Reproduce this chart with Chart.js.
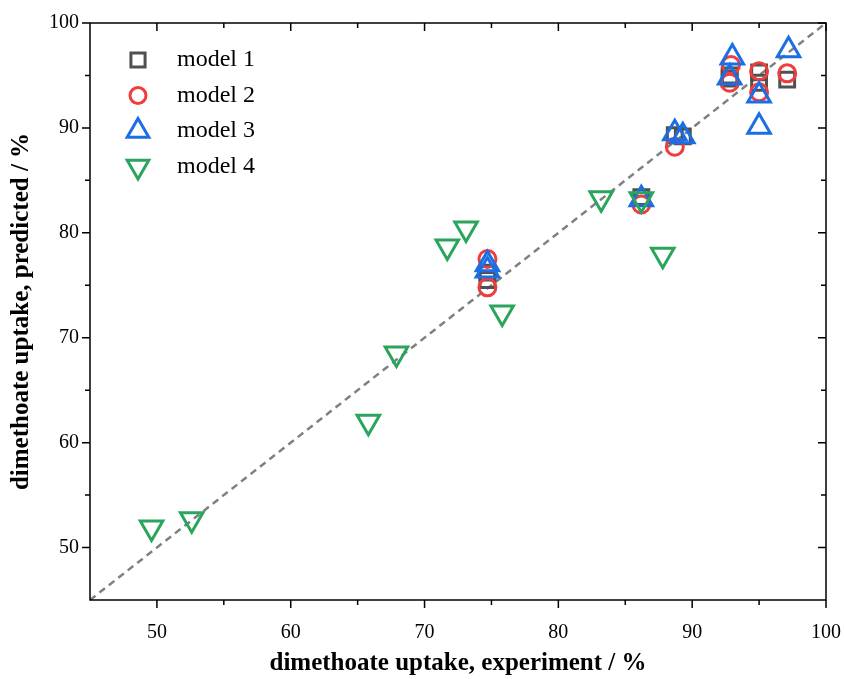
<!DOCTYPE html>
<html>
<head>
<meta charset="utf-8">
<script src="https://cdn.jsdelivr.net/npm/chart.js@4.4.0/dist/chart.umd.min.js"></script>
<style>
  html, body { margin: 0; padding: 0; background: #fff; }
  #wrap { position: relative; width: 844px; height: 679px; }
</style>
</head>
<body>
<div id="wrap"><canvas id="chart" width="844" height="679"></canvas></div>
<script>
// series names
const seriesNames = ['model 1', 'model 2', 'model 3', 'model 4'];

// model 1 (squares)
const m1x = [74.7, 74.7, 86.2, 88.7, 89.3, 92.8, 92.8, 95.0, 95.0, 97.1];
const m1y = [75.5, 76.2, 83.4, 89.3, 89.2, 95.0, 94.7, 95.3, 94.3, 94.6];
// model 2 (circles)
const m2x = [74.7, 74.7, 86.2, 88.7, 92.9, 92.8, 95.0, 95.0, 97.1];
const m2y = [77.5, 74.8, 82.7, 88.2, 96.0, 94.3, 95.4, 93.4, 95.2];
// model 3 (up triangles)
const m3x = [74.7, 74.7, 86.2, 88.7, 89.3, 93.0, 92.8, 95.0, 95.0, 97.2];
const m3y = [77.0, 76.4, 83.2, 89.5, 89.2, 96.7, 94.8, 93.1, 90.1, 97.4];
// model 4 (down triangles)
const m4x = [49.6, 52.6, 65.8, 67.9, 71.7, 73.1, 75.8, 83.2, 86.2, 87.8];
const m4y = [51.9, 52.7, 62.0, 68.5, 78.7, 80.4, 72.4, 83.3, 83.2, 77.9];

// 1:1 line
const diagonal = [45, 100];

// axis ticks
const xTicks = [50, 60, 70, 80, 90, 100];
const yTicks = [50, 60, 70, 80, 90, 100];
const xMinor = [55, 65, 75, 85, 95];
const yMinor = [55, 65, 75, 85, 95];

const colors = ['#505050', '#f03c3c', '#1b6fe3', '#2ba55d'];
const styles = ['rect', 'circle', 'triangle', 'triangle'];
const radii = [10.5, 8.5, 13, 13];
const rotations = [0, 0, 0, 180];

const serif = "'Liberation Serif', 'DejaVu Serif', serif";

function toPoints(xs, ys) {
    return xs.map((x, i) => ({ x, y: ys[i] }));
}

const modelSets = [[m1x, m1y], [m2x, m2y], [m3x, m3y], [m4x, m4y]].map((d, i) => ({
    label: seriesNames[i],
    data: toPoints(d[0], d[1]),
    pointStyle: styles[i],
    pointRadius: radii[i],
    pointHoverRadius: radii[i],
    pointRotation: rotations[i],
    pointBorderWidth: 3,
    pointBackgroundColor: 'rgba(0,0,0,0)',
    borderColor: colors[i],
    backgroundColor: 'rgba(0,0,0,0)',
    showLine: false,
    order: 4 - i
}));

const lineSet = {
    label: 'diagonal',
    data: toPoints(diagonal, diagonal),
    showLine: true,
    borderColor: '#808080',
    borderWidth: 2.5,
    borderDash: [7, 5],
    pointRadius: 0,
    order: 10
};

/**
 * Frame around the plot area with inward/outward ticks
 */
const framePlugin = {
    id: 'frame',
    afterDatasetsDraw(chart) {
        const { ctx, chartArea } = chart;
        const xs = chart.scales.x, ys = chart.scales.y;
        const { left, right, top, bottom } = chartArea;
        ctx.save();
        ctx.strokeStyle = '#000';
        ctx.lineWidth = 1.5;
        ctx.strokeRect(left, top, right - left, bottom - top);

        const tick = (vals, len) => {
            vals.forEach(v => {
                const px = xs.getPixelForValue(v);
                ctx.beginPath();
                ctx.moveTo(px, bottom); ctx.lineTo(px, bottom + len);   // bottom, outward
                ctx.moveTo(px, top); ctx.lineTo(px, top + len);         // top, inward
                ctx.stroke();
            });
        };
        const tickY = (vals, len) => {
            vals.forEach(v => {
                const py = ys.getPixelForValue(v);
                ctx.beginPath();
                ctx.moveTo(left, py); ctx.lineTo(left - len, py);       // left, outward
                ctx.moveTo(right, py); ctx.lineTo(right - len, py);     // right, inward
                ctx.stroke();
            });
        };
        tick(xTicks, 8);
        tick(xMinor, 5);
        tickY(yTicks, 8);
        tickY(yMinor, 5);
        ctx.restore();
    }
};

/**
 * Legend drawn inside the plot area (top-left)
 */
const insideLegend = {
    id: 'insideLegend',
    afterDatasetsDraw(chart) {
        const { ctx, chartArea } = chart;
        ctx.save();
        seriesNames.forEach((name, i) => {
            const mx = chartArea.left + 48;
            const my = chartArea.top + 37 + i * 35.5;
            ctx.strokeStyle = colors[i];
            ctx.fillStyle = 'rgba(0,0,0,0)';
            ctx.lineWidth = 3;
            Chart.helpers.drawPoint(ctx, {
                pointStyle: styles[i],
                radius: radii[i] - 0.5,
                rotation: rotations[i],
                borderWidth: 3
            }, mx, my);
            ctx.fillStyle = '#000';
            ctx.font = '24px ' + serif;
            ctx.textBaseline = 'middle';
            ctx.textAlign = 'left';
            ctx.fillText(name, chartArea.left + 87, my);
        });
        ctx.restore();
    }
};

new Chart(document.getElementById('chart').getContext('2d'), {
    type: 'scatter',
    data: { datasets: [...modelSets, lineSet] },
    options: {
        responsive: false,
        animation: false,
        layout: { padding: { top: 23, right: 18, left: 0, bottom: 0 } },
        plugins: {
            legend: { display: false },
            tooltip: { enabled: false }
        },
        scales: {
            x: {
                type: 'linear',
                min: 45,
                max: 100,
                afterBuildTicks: (s) => { s.ticks = xTicks.map(v => ({ value: v })); },
                afterFit: (s) => { s.height = 79; s.paddingLeft = 0; s.paddingRight = 0; },
                grid: { display: false, drawTicks: false },
                border: { display: false },
                ticks: {
                    color: '#000',
                    padding: 21,
                    font: { family: serif, size: 20 },
                    maxRotation: 0
                },
                title: {
                    display: true,
                    text: 'dimethoate uptake, experiment / %',
                    color: '#000',
                    font: { family: serif, size: 25, weight: 'bold' },
                    padding: { top: 0, bottom: 0 }
                }
            },
            y: {
                type: 'linear',
                min: 45,
                max: 100,
                afterBuildTicks: (s) => { s.ticks = yTicks.map(v => ({ value: v })); },
                afterFit: (s) => { s.width = 90; s.paddingTop = 0; s.paddingBottom = 0; },
                grid: { display: false, drawTicks: false },
                border: { display: false },
                ticks: {
                    color: '#000',
                    padding: 11,
                    font: { family: serif, size: 20 }
                },
                title: {
                    display: true,
                    text: 'dimethoate uptake, predicted / %',
                    color: '#000',
                    font: { family: serif, size: 25, weight: 'bold' },
                    padding: { top: 7, bottom: 0 }
                }
            }
        }
    },
    plugins: [framePlugin, insideLegend]
});
</script>
</body>
</html>
